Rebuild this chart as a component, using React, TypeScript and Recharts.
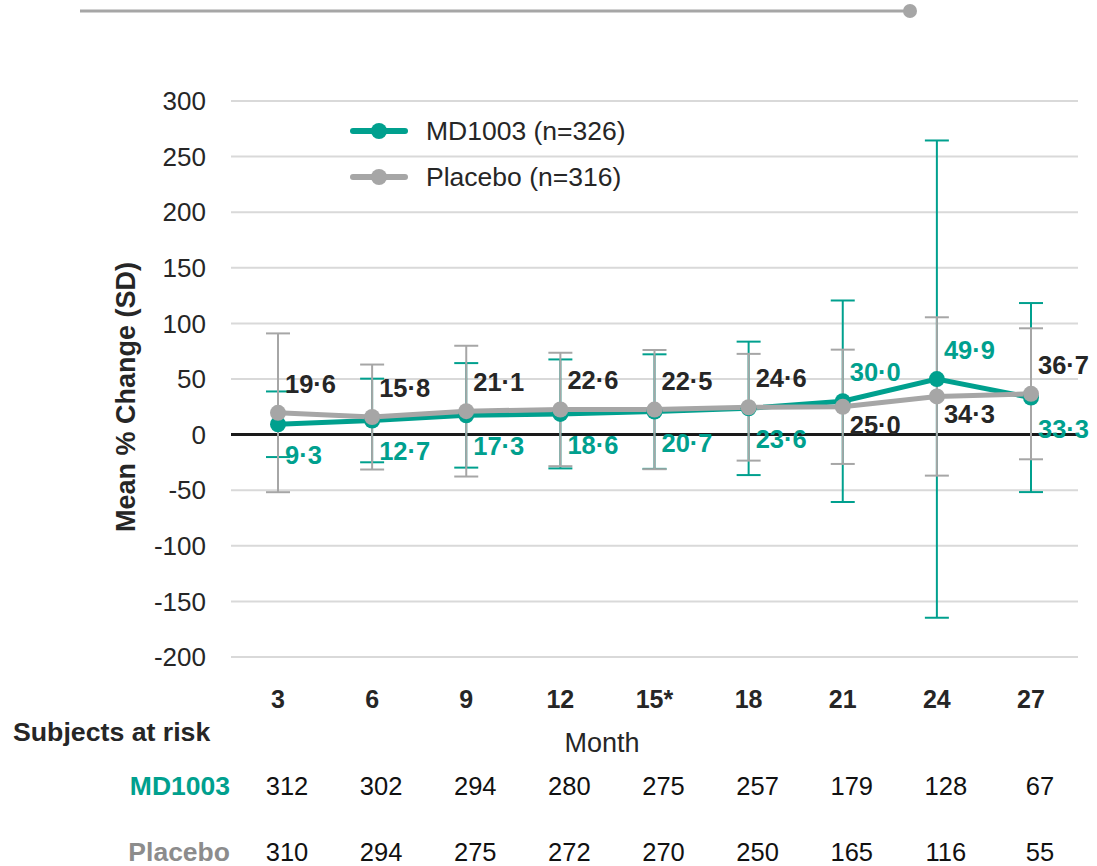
import React from 'react';
import {
  LineChart,
  Line,
  XAxis,
  YAxis,
  CartesianGrid,
  ReferenceLine,
  ErrorBar,
  LabelList,
  Legend,
} from 'recharts';

const months = ['3', '6', '9', '12', '15*', '18', '21', '24', '27'];
const md1003Mean = [9.3, 12.7, 17.3, 18.6, 20.7, 23.6, 30.0, 49.9, 33.3];
const md1003Sd = [29.5, 37.6, 47, 49, 51.5, 60, 90.6, 214.6, 85];
const placeboMean = [19.6, 15.8, 21.1, 22.6, 22.5, 24.6, 25.0, 34.3, 36.7];
const placeboSd = [71.4, 47.2, 58.8, 51, 53.6, 48, 51.4, 71.2, 58.9];
const md1003AtRisk = [312, 302, 294, 280, 275, 257, 179, 128, 67];
const placeboAtRisk = [310, 294, 275, 272, 270, 250, 165, 116, 55];
const yTicks = [-200, -150, -100, -50, 0, 50, 100, 150, 200, 250, 300];

const TEAL = '#00a08e';
const GREY = '#a6a6a6';
const GREY_TEXT = '#8c8c8c';
const INK = '#262626';
const FONT = '"Liberation Sans", Arial, Helvetica, sans-serif';
const X_PAD = { left: 47, right: 47 };

const data = months.map((month, i) => ({
  month,
  md1003: md1003Mean[i],
  md1003Sd: md1003Sd[i],
  placebo: placeboMean[i],
  placeboSd: placeboSd[i],
}));

const fmt = (v: number) => v.toFixed(1).replace('.', '·');

// higher series of the pair gets its label above the point, lower one below
function valueLabel(series: 'md1003' | 'placebo') {
  return (props: any) => {
    const { x, y, index, value } = props;
    const own = series === 'md1003' ? md1003Mean[index] : placeboMean[index];
    const other = series === 'md1003' ? placeboMean[index] : md1003Mean[index];
    const above = own > other;
    const dy = above ? -29 : series === 'md1003' ? 31 : 18;
    return (
      <text
        x={x + 7}
        y={y + dy}
        dominantBaseline="central"
        fontFamily={FONT}
        fontSize={25.5}
        fontWeight="bold"
        fill={series === 'md1003' ? TEAL : INK}
      >
        {fmt(Number(value))}
      </text>
    );
  };
}

function riskTick(values: number[], dy: number) {
  return (props: any) => {
    const { x, y, payload } = props;
    const idx = payload.index ?? months.indexOf(payload.value);
    return (
      <text x={x + 9} y={y + dy} textAnchor="middle" fontFamily={FONT} fontSize={25.5} fill="#111">
        {values[idx]}
      </text>
    );
  };
}

function LegendBox({ payload }: any) {
  const items = (payload || []).filter((p: any) => p.type !== 'none');
  return (
    <div style={{ fontFamily: FONT }}>
      {items.map((p: any) => (
        <div key={p.value} style={{ display: 'flex', alignItems: 'center', height: 46 }}>
          <svg width={58} height={20} style={{ marginRight: 18 }}>
            <line x1={3} y1={10} x2={55} y2={10} stroke={p.color} strokeWidth={6} strokeLinecap="round" />
            <circle cx={29} cy={10} r={8} fill={p.color} />
          </svg>
          <span style={{ fontSize: 26.5, color: INK }}>{p.value}</span>
        </div>
      ))}
    </div>
  );
}

export default function App() {
  return (
    <div style={{ position: 'absolute', left: 0, top: 0, width: 1097, height: 866, background: '#fff' }}>
      <svg width={1097} height={866} style={{ position: 'absolute', left: 0, top: 0, pointerEvents: 'none' }}>
        <line x1={80} y1={11} x2={905} y2={11} stroke={GREY} strokeWidth={3} />
        <circle cx={910} cy={11} r={7} fill={GREY} />
        <text x={13} y={741} fontFamily={FONT} fontSize={26.7} fontWeight="bold" fill={INK}>
          Subjects at risk
        </text>
        <text x={602} y={752} textAnchor="middle" fontFamily={FONT} fontSize={27} fill={INK}>
          Month
        </text>
        <text x={230} y={795} textAnchor="end" fontFamily={FONT} fontSize={26.5} fontWeight="bold" fill={TEAL}>
          MD1003
        </text>
        <text x={230} y={861} textAnchor="end" fontFamily={FONT} fontSize={26.5} fontWeight="bold" fill={GREY_TEXT}>
          Placebo
        </text>
      </svg>
      <div style={{ position: 'absolute', left: 0, top: 0 }}>
        <LineChart width={1097} height={866} data={data} margin={{ top: 101, right: 19, bottom: 0, left: 0 }}>
          <CartesianGrid vertical={false} stroke="#d9d9d9" strokeWidth={2} />
          <XAxis
            dataKey="month"
            interval={0}
            padding={X_PAD}
            axisLine={false}
            tickLine={false}
            tickSize={0}
            tickMargin={33}
            height={56}
            tick={{ fill: INK, fontSize: 25, fontWeight: 'bold', fontFamily: FONT }}
          />
          <XAxis
            xAxisId="md"
            dataKey="month"
            interval={0}
            padding={X_PAD}
            axisLine={false}
            tickLine={false}
            tickSize={0}
            tickMargin={0}
            height={90}
            tick={riskTick(md1003AtRisk, 82)}
          />
          <XAxis
            xAxisId="pl"
            dataKey="month"
            interval={0}
            padding={X_PAD}
            axisLine={false}
            tickLine={false}
            tickSize={0}
            tickMargin={0}
            height={63}
            tick={riskTick(placeboAtRisk, 58)}
          />
          <YAxis
            type="number"
            domain={[-200, 300]}
            ticks={yTicks}
            interval={0}
            width={231}
            axisLine={false}
            tickLine={false}
            tickSize={0}
            tickMargin={25}
            tick={{ fill: INK, fontSize: 26, fontFamily: FONT }}
            label={{
              content: ({ viewBox }: any) => {
                const cy = viewBox.y + viewBox.height / 2 + 18;
                return (
                  <text
                    x={126}
                    y={cy}
                    transform={`rotate(-90, 126, ${cy})`}
                    textAnchor="middle"
                    dominantBaseline="central"
                    fontFamily={FONT}
                    fontSize={27}
                    fontWeight="bold"
                    fill={INK}
                  >
                    Mean % Change (SD)
                  </text>
                );
              },
            }}
          />
          <ReferenceLine y={0} stroke="#1a1a1a" strokeWidth={3} />
          <Legend
            layout="vertical"
            align="center"
            verticalAlign="middle"
            wrapperStyle={{ left: 350, top: 108, width: 'auto' }}
            content={<LegendBox />}
          />
          <Line
            dataKey="md1003"
            stroke="none"
            dot={false}
            activeDot={false}
            legendType="none"
            isAnimationActive={false}
          >
            <ErrorBar dataKey="md1003Sd" direction="y" width={12} strokeWidth={2} stroke={TEAL} />
          </Line>
          <Line
            dataKey="placebo"
            stroke="none"
            dot={false}
            activeDot={false}
            legendType="none"
            isAnimationActive={false}
          >
            <ErrorBar dataKey="placeboSd" direction="y" width={12} strokeWidth={2} stroke={GREY} />
          </Line>
          <Line
            dataKey="md1003"
            name="MD1003 (n=326)"
            stroke={TEAL}
            strokeWidth={5}
            dot={{ r: 8, fill: TEAL, stroke: TEAL, strokeWidth: 0 }}
            activeDot={false}
            isAnimationActive={false}
          >
            <LabelList dataKey="md1003" content={valueLabel('md1003')} />
          </Line>
          <Line
            dataKey="placebo"
            name="Placebo (n=316)"
            stroke={GREY}
            strokeWidth={5}
            dot={{ r: 8, fill: GREY, stroke: GREY, strokeWidth: 0 }}
            activeDot={false}
            isAnimationActive={false}
          >
            <LabelList dataKey="placebo" content={valueLabel('placebo')} />
          </Line>
        </LineChart>
      </div>
    </div>
  );
}
